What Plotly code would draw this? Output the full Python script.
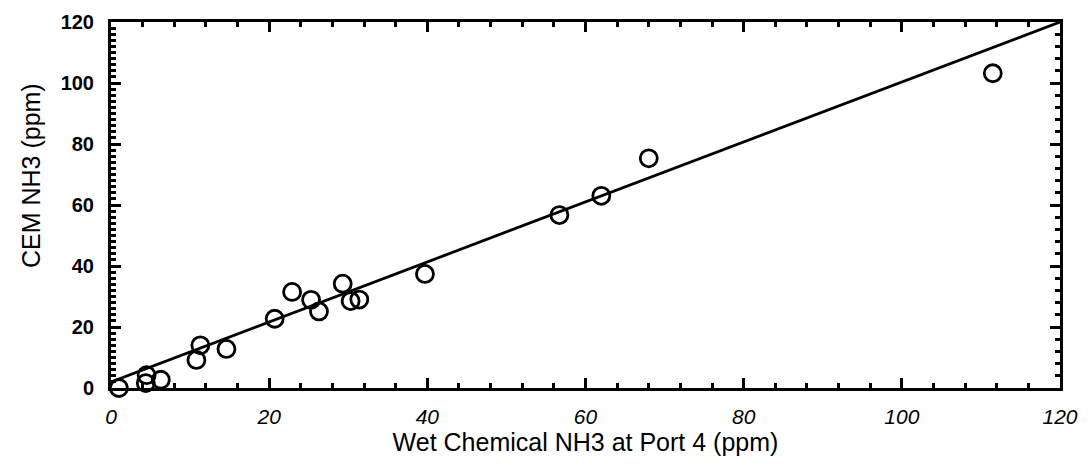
import plotly.graph_objects as go

# Data
wet_nh3 = [1.0, 4.4, 4.5, 6.3, 10.8, 11.3, 14.6, 20.7, 22.9, 25.3, 26.3, 29.3, 30.3, 31.4, 39.7, 56.7, 62.0, 68.0, 111.5]
cem_nh3 = [0.0, 1.6, 4.2, 2.7, 9.2, 14.0, 12.8, 22.7, 31.5, 28.9, 25.1, 34.2, 28.5, 29.0, 37.4, 56.7, 63.0, 75.3, 103.2]

fit_x = [0, 120]
fit_y = [2, 120]

tick_step = 20
x_title = "Wet Chemical NH3 at Port 4 (ppm)"
y_title = "CEM NH3 (ppm)"

fig = go.Figure()

fig.add_trace(go.Scatter(
    x=fit_x, y=fit_y, mode="lines",
    line=dict(color="black", width=2.8),
    showlegend=False, hoverinfo="skip",
))
fig.add_trace(go.Scatter(
    x=wet_nh3, y=cem_nh3, mode="markers",
    marker=dict(symbol="circle-open", size=17, color="black", line=dict(width=2.8)),
    showlegend=False, cliponaxis=False,
))
# invisible trace so the top/right axes are drawn
fig.add_trace(go.Scatter(x=[None], y=[None], yaxis="y2", xaxis="x2", showlegend=False, hoverinfo="skip"))

font_fam = "Liberation Sans, Arial, sans-serif"

common = dict(
    range=[0, 120], tickmode="linear", tick0=0, dtick=tick_step,
    showgrid=False, zeroline=False,
    showline=True, linecolor="black", linewidth=3,
    ticks="inside", ticklen=10, tickwidth=2.5, tickcolor="black",
)

def minor(step):
    return dict(dtick=step, ticks="inside", ticklen=5, tickwidth=2.5, tickcolor="black", showgrid=False)

fig.update_layout(
    width=1091, height=473,
    margin=dict(l=111, r=31, t=22, b=85),
    paper_bgcolor="white", plot_bgcolor="white",
    font=dict(family=font_fam, color="black"),
    xaxis=dict(
        **common,
        minor=minor(4),
        tickfont=dict(size=21, family=font_fam, style="italic"),
        ticklabelstandoff=8,
        title=dict(text=x_title, font=dict(size=25, family=font_fam), standoff=2),
    ),
    xaxis2=dict(**common, overlaying="x", side="top", anchor="y", showticklabels=False, minor=minor(4)),
    yaxis=dict(
        **common,
        minor=minor(2),
        tickfont=dict(size=20, family=font_fam, weight="bold"),
        ticklabelstandoff=10,
    ),
    yaxis2=dict(**common, overlaying="y", side="right", anchor="x", showticklabels=False, minor=minor(4)),
    annotations=[dict(
        text=y_title, textangle=-90, showarrow=False,
        xref="paper", yref="paper", x=-0.085, y=0.58,
        xanchor="center", yanchor="middle",
        font=dict(size=25, family=font_fam, color="black"),
    )],
)

fig.write_html("out.html")
